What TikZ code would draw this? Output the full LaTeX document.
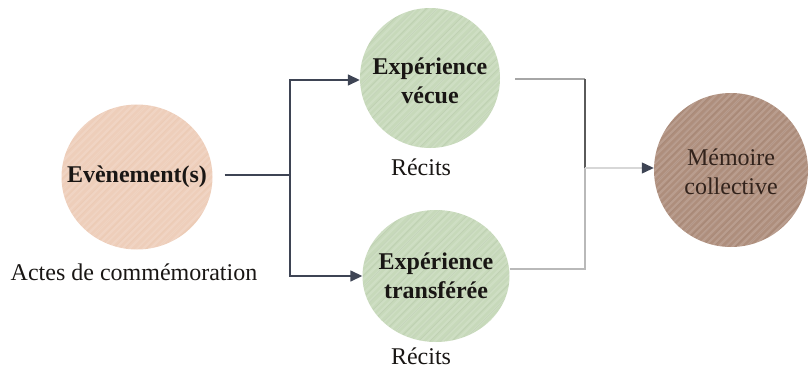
\documentclass[tikz,border=0pt]{standalone}
\usepackage{fontspec}
\setmainfont{Liberation Serif}
\usetikzlibrary{arrows.meta,shapes.geometric}
\definecolor{peach}{RGB}{238,206,186}
\definecolor{sage}{RGB}{199,217,186}
\definecolor{wood}{RGB}{174,142,124}
\definecolor{linedark}{RGB}{62,68,84}
\definecolor{linemid}{RGB}{90,90,90}
\definecolor{linelight}{RGB}{185,185,185}
\definecolor{linefaint}{RGB}{215,215,215}
\definecolor{txt}{RGB}{25,22,20}
\definecolor{txtbrown}{RGB}{50,35,28}
\begin{document}
\begin{tikzpicture}[x=1pt,y=-1pt,
  txtfont/.style={font=\fontsize{24}{29}\selectfont},
  grain/.style={path picture={
    \foreach \i in {-230,-223,...,230}{
      \draw[line width=2.2pt, draw=white, opacity=0.14]
        ([xshift=\i pt]path picture bounding box.center) ++(-120,120) -- ++(240,-240);}
    \foreach \i in {-227,-216,...,230}{
      \draw[line width=0.9pt, draw=#1, opacity=0.12]
        ([xshift=\i pt]path picture bounding box.center) ++(-120,120) -- ++(240,-240);}
  }},
  blob/.style={ellipse, inner sep=0pt},
  intext/.style={txtfont, text=txt, align=center, inner sep=0pt},
  lbl/.style={txtfont, text=txt, inner sep=0pt},
  conn/.style={line width=1.5pt, draw=linedark},
  tipa/.style={-{Triangle[length=12pt,width=11pt,color=linedark]}}
]
\useasboundingbox (0,0) rectangle (809,370);

% nodes
\node[blob, fill=peach, grain=peach!70!brown, minimum width=151pt, minimum height=145pt,
  label={[intext]center:\bfseries Evènement(s)}]
  (ev) at (137,177) {};
\node[lbl] (act) at (134,272) {Actes de commémoration};

\node[blob, fill=sage, grain=sage!70!black, minimum width=140pt, minimum height=140pt,
  label={[intext, yshift=-3pt]center:\bfseries Expérience\\\bfseries vécue}]
  (xv) at (430,78) {};
\node[lbl] (r1) at (421,167) {Récits};

\node[blob, fill=sage, grain=sage!70!black, minimum width=147pt, minimum height=132pt,
  label={[intext]center:\bfseries Expérience\\\bfseries transférée}]
  (xt) at (436,276) {};
\node[lbl] (r2) at (421,356) {Récits};

\node[blob, fill=wood, grain=wood!70!black, minimum width=154pt, minimum height=154pt,
  label={[intext, text=txtbrown, yshift=-2pt]center:Mémoire\\collective}]
  (mc) at (731,170) {};

% junctions
\coordinate (ls) at ([xshift=12pt]ev.east |- 0,175);
\coordinate (jl) at (290,175);
\coordinate (jr) at (585,168);

% left connectors
\draw[conn] (ls) -- (jl);
\draw[conn, tipa] (jl) |- (xv.west |- 0,80);
\draw[conn, tipa] (jl) |- (xt.west |- 0,276);

% right connectors
\draw[line width=1.2pt, draw=linelight!90!black] ([xshift=15pt]xv.east |- 0,79) -| (585,79);
\draw[line width=1.5pt, draw=linemid] (585,79) -- (jr);
\draw[line width=1.3pt, draw=linelight] (xt.east |- 0,269) -| (jr);
\draw[line width=1.2pt, draw=linefaint, tipa] (jr) -- (mc.west |- jr);
\end{tikzpicture}
\end{document}
